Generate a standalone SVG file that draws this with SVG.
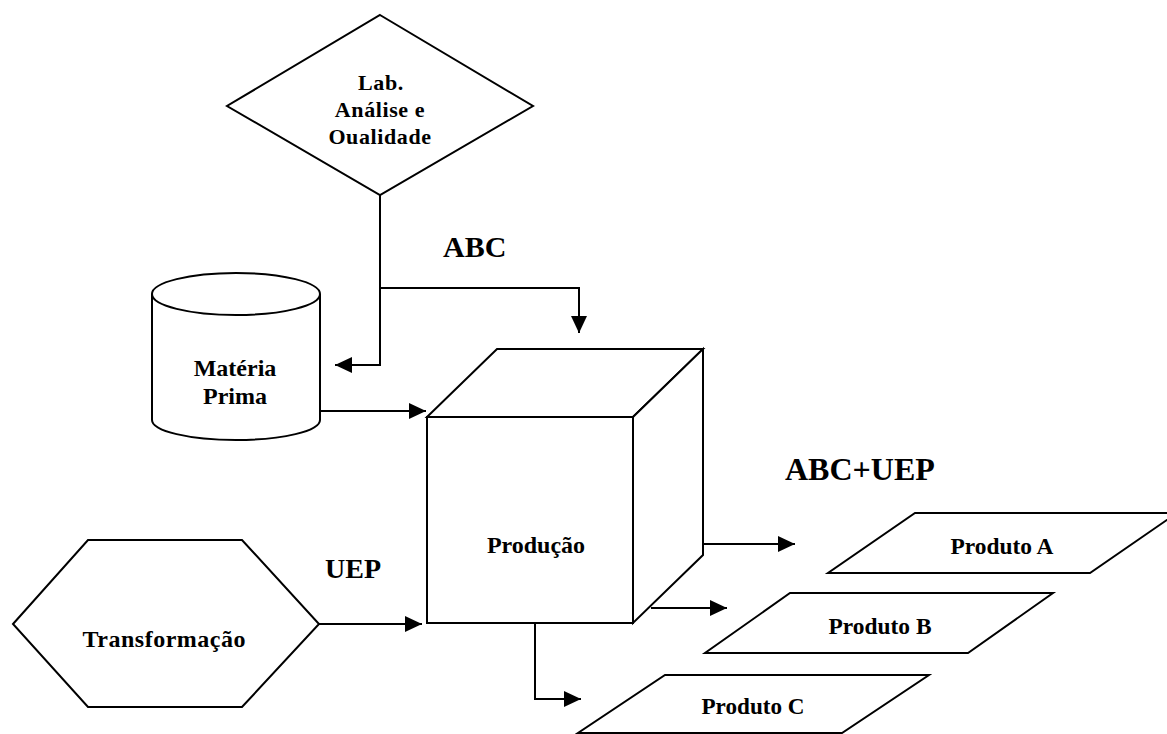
<svg xmlns="http://www.w3.org/2000/svg" width="1167" height="734" viewBox="0 0 1167 734">
  <style>
    .shape { fill: #ffffff; stroke: #000000; stroke-width: 2; stroke-linejoin: miter; }
    .edge { fill: none; stroke: #000000; stroke-width: 2; marker-end: url(#arrow); }
    .lbl { font-family: "Liberation Serif", "Times New Roman", serif; font-weight: bold; fill: #000000; text-anchor: middle; }
    .node { font-size: 24px; }
    .diam { font-size: 22px; letter-spacing: 0.6px; }
    .prod { font-size: 24px; }
    .tag { font-size: 30px; text-anchor: start; }
  </style>
  <defs>
    <marker id="arrow" markerUnits="userSpaceOnUse" markerWidth="17" markerHeight="16" refX="17" refY="8" orient="auto">
      <path d="M0,0 L17,8 L0,16 Z" fill="#000000"/>
    </marker>
  </defs>
  <rect width="1167" height="734" fill="#ffffff"/>

  <!-- connectors -->
  <g id="connectors">
    <polyline class="edge" points="380,195 380,365 335,365"/>
    <polyline class="edge" points="380,288 579,288 579,333"/>
    <line class="edge" x1="320" y1="411" x2="426" y2="411"/>
    <line class="edge" x1="319" y1="624" x2="422" y2="624"/>
    <line class="edge" x1="703" y1="544" x2="795" y2="544"/>
    <line class="edge" x1="651" y1="608" x2="727" y2="608"/>
    <polyline class="edge" points="535,623 535,699 581,699"/>
  </g>

  <!-- flow labels -->
  <text class="lbl tag" x="443" y="257">ABC</text>
  <text class="lbl tag" x="325" y="578" style="font-size:28px">UEP</text>
  <text class="lbl tag" x="785" y="480" style="font-size:32px">ABC+UEP</text>

  <g id="lab">
    <polygon class="shape" points="380,15 533,106 380,195 227,106"/>
    <text class="lbl diam" x="381" y="90">Lab.</text>
    <text class="lbl diam" x="380" y="117">Análise e</text>
    <text class="lbl diam" x="380" y="144">Oualidade</text>
  </g>

  <g id="materia-prima">
    <path class="shape" d="M152,294 L152,420 A84,20 0 0 0 320,420 L320,294 A84,21 0 0 0 152,294 Z"/>
    <path class="shape" d="M152,294 A84,21 0 0 0 320,294" fill="none"/>
    <text class="lbl node" x="235" y="376">Matéria</text>
    <text class="lbl node" x="235" y="404">Prima</text>
  </g>

  <g id="producao">
    <polygon class="shape" points="427,417 497,349 703,349 633,417"/>
    <polygon class="shape" points="633,417 703,349 703,555 633,623"/>
    <rect class="shape" x="427" y="417" width="206" height="206"/>
    <text class="lbl node" x="536" y="553">Produção</text>
  </g>

  <g id="transformacao">
    <polygon class="shape" points="13,624 88,540 242,540 319,624 242,707 88,707"/>
    <text class="lbl node" x="164" y="647" textLength="163">Transformação</text>
  </g>

  <g id="produto-a">
    <polygon class="shape" points="915,513 1177,513 1090,573 828,573"/>
    <text class="lbl prod" x="1002" y="554" textLength="103" lengthAdjust="spacingAndGlyphs">Produto A</text>
  </g>

  <g id="produto-b">
    <polygon class="shape" points="790,593 1053,593 968,653 705,653"/>
    <text class="lbl prod" x="880" y="634" textLength="103" lengthAdjust="spacingAndGlyphs">Produto B</text>
  </g>

  <g id="produto-c">
    <polygon class="shape" points="665,675 929,675 842,733 578,733"/>
    <text class="lbl prod" x="753" y="714" textLength="103" lengthAdjust="spacingAndGlyphs">Produto C</text>
  </g>
</svg>
